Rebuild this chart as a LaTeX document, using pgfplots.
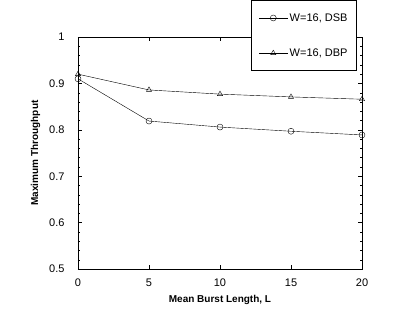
\documentclass[border=0pt]{standalone}
\usepackage{pgfplots}
\pgfplotsset{compat=1.18}
\usepackage{fontspec}
\setmainfont{Liberation Sans}
\begin{document}
\begin{tikzpicture}
\begin{axis}[
  at={(0,0)}, anchor=south west,
  scale only axis, width=284pt, height=232pt,
  xmin=0, xmax=20, ymin=0.5, ymax=1,
  xtick={0,5,10,15,20},
  ytick={0.5,0.6,0.7,0.8,0.9,1},
  yticklabels={0.5,0.6,0.7,0.8,0.9,1},
  minor y tick num=4,
  tick align=inside,
  tick style={black, thin},
  major tick length=4pt, minor tick length=2pt,
  axis line style={black, thick},
  /pgf/number format/assume math mode=true,
  ticklabel style={font=\fontsize{11}{13}\selectfont},
  xticklabel style={yshift=-6pt},
  yticklabel style={xshift=-10pt},
  xlabel={\textbf{Mean Burst Length, L}},
  ylabel={\textbf{Maximum Throughput}},
  label style={font=\fontsize{10}{12}\selectfont},
  xlabel style={yshift=-2pt},
  ylabel style={yshift=2pt},
  legend style={at={(0.982,0.853)}, anchor=south east, draw=black, thick,
    font=\fontsize{11}{13}\selectfont, row sep=22pt, inner xsep=7pt, inner ysep=11pt,
    legend cell align=left},
  legend image code/.code={\draw[mark repeat=2,mark phase=2,thin] plot coordinates {(0cm,0cm)(0.5cm,0cm)(1cm,0cm)};},
]
\addplot[black, thin, mark=o, mark size=3pt] coordinates {
 (0,0.910) (5,0.819) (10,0.806) (15,0.797) (20,0.789)};
\addlegendentry{W=16, DSB}
\addplot[black, thin, mark=triangle, mark size=3pt] coordinates {
 (0,0.920) (5,0.886) (10,0.877) (15,0.871) (20,0.866)};
\addlegendentry{W=16, DBP}
\end{axis}
\useasboundingbox (-78pt,-55pt) rectangle (318pt,268pt);
\end{tikzpicture}
\end{document}
